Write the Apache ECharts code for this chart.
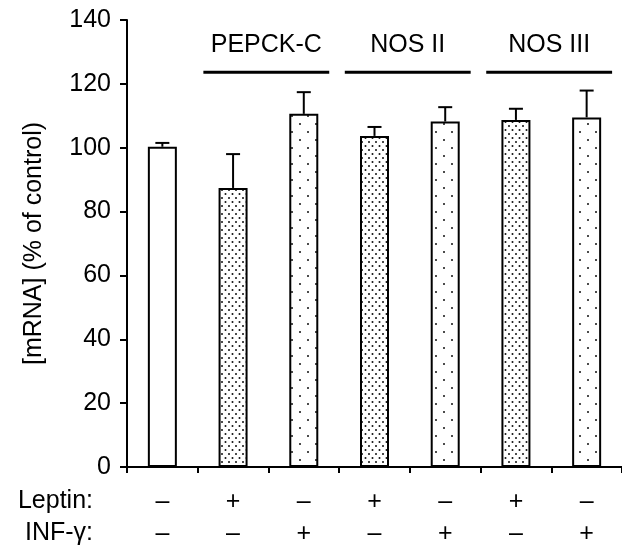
<!DOCTYPE html>
<html><head><meta charset="utf-8">
<script src="https://cdn.jsdelivr.net/npm/echarts@6/dist/echarts.min.js"></script>
<style>html,body{margin:0;padding:0;background:#fff}#c{width:622px;height:550px}</style>
</head><body><div id="c"></div>
<script>
// ---- data ----
const leptin = ['–','+','–','+','–','+','–'];
const infg   = ['–','–','+','–','+','–','+'];
const values = [100.3, 87.4, 110.6, 103.7, 108.2, 108.7, 109.5];
const errors = [1.2, 10.6, 6.8, 2.8, 4.5, 3.5, 8.4];
const patternKind = ['none','dense','sparse','dense','sparse','dense','sparse'];
const groupNames = ['PEPCK-C','NOS II','NOS III'];
const groupFrom = [1,3,5];
const groupTo = [2,4,6];
const yTicks = [0,20,40,60,80,100,120,140];

const FONT = 'Liberation Sans, Arial, sans-serif';
const FS = 25;

function makePattern(kind){
  const c = document.createElement('canvas');
  const ctx = c.getContext('2d');
  if(kind==='dense'){ c.width=7; c.height=8; }
  else { c.width=16; c.height=16; }
  ctx.fillStyle='#fff'; ctx.fillRect(0,0,c.width,c.height);
  ctx.fillStyle='#111';
  const pts = kind==='dense' ? [[1.5,2],[5,6]] : [[4,4],[12,12]];
  pts.forEach(p=>{ctx.beginPath();ctx.arc(p[0],p[1],1.0,0,Math.PI*2);ctx.fill();});
  return c;
}
const patterns = {dense: makePattern('dense'), sparse: makePattern('sparse')};

const cats = leptin.map((l,i)=>String(i));
const barData = values.map((v,i)=>({
  value:v,
  itemStyle:{color: patternKind[i]==='none' ? '#fff' : {image: patterns[patternKind[i]], repeat:'repeat'}}
}));
const errData = values.map((v,i)=>[i, v, errors[i]]);
const groupData = groupNames.map((n,i)=>[groupFrom[i], groupTo[i], n]);

const chart = echarts.init(document.getElementById('c'), null, {renderer:'canvas'});
chart.setOption({
  animation:false,
  backgroundColor:'#fff',
  grid:{left:127, right:0, top:20, bottom:82, containLabel:false},
  xAxis:{
    type:'category', data:cats, boundaryGap:true,
    axisLine:{lineStyle:{color:'#000', width:2}},
    axisTick:{show:true, length:6, lineStyle:{color:'#000', width:2}},
    axisLabel:{
      margin:19, color:'#000', fontFamily:FONT, fontSize:FS, lineHeight:32,
      formatter:(v,i)=> leptin[i] + '\n' + infg[i]
    }
  },
  yAxis:{
    type:'value', min:0, max:140, interval:20,
    name:'[mRNA] (% of control)', nameLocation:'middle', nameGap:80,
    nameTextStyle:{color:'#000', fontFamily:FONT, fontSize:FS},
    axisLine:{show:true, lineStyle:{color:'#000', width:2}},
    axisTick:{show:true, length:7, lineStyle:{color:'#000', width:2}},
    axisLabel:{margin:16, color:'#000', fontFamily:FONT, fontSize:FS},
    splitLine:{show:false}
  },
  graphic:[
    {type:'text', right:529, top:489, style:{text:'Leptin:', font:FS+'px '+FONT, fill:'#000', textAlign:'right'}},
    {type:'text', right:529, top:521, style:{text:'INF-γ:', font:FS+'px '+FONT, fill:'#000', textAlign:'right'}}
  ],
  series:[
    {type:'bar', data:barData, barWidth:29,
     itemStyle:{borderColor:'#000', borderWidth:2}, z:2},
    {type:'custom', data:errData, z:3,
     renderItem:(params, api)=>{
       const x = api.value(0), v = api.value(1), e = api.value(2);
       const p0 = api.coord([x, v]);
       const p1 = api.coord([x, v+e]);
       return {type:'group', children:[
         {type:'line', shape:{x1:p0[0], y1:p0[1], x2:p1[0], y2:p1[1]}, style:{stroke:'#000', lineWidth:2}},
         {type:'line', shape:{x1:p1[0]-7, y1:p1[1], x2:p1[0]+7, y2:p1[1]}, style:{stroke:'#000', lineWidth:2}}
       ]};
     }},
    {type:'custom', data:groupData, z:3,
     renderItem:(params, api)=>{
       const a = api.value(0), b = api.value(1);
       const band = api.size([1,0])[0];
       const pa = api.coord([a, 123.6]);
       const pb = api.coord([b, 123.6]);
       const x1 = pa[0]-band*0.42, x2 = pb[0]+band*0.36;
       return {type:'group', children:[
         {type:'line', shape:{x1:x1, y1:pa[1], x2:x2, y2:pa[1]}, style:{stroke:'#000', lineWidth:3}},
         {type:'text', style:{x:(x1+x2)/2, y:pa[1]-27, text:groupNames[params.dataIndex], font:FS+'px '+FONT, fill:'#000', textAlign:'center', textVerticalAlign:'middle'}}
       ]};
     }}
  ]
});
</script></body></html>
